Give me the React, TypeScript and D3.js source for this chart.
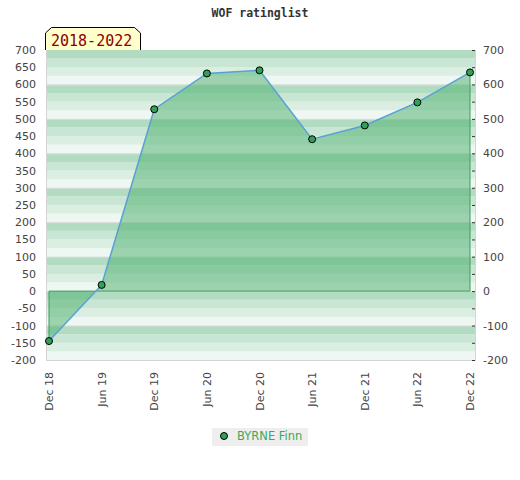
import React from 'react';
import * as d3 from 'd3';

// WOF rating history, half-year steps
const periods = ['Dec 18', 'Jun 19', 'Dec 19', 'Jun 20', 'Dec 20', 'Jun 21', 'Dec 21', 'Jun 22', 'Dec 22'];
const ratings = [-145, 18, 528, 632, 641, 441, 481, 548, 635];
const leftTicks = d3.range(-200, 701, 50);
const rightTicks = d3.range(-200, 701, 100);
const seriesName = 'BYRNE Finn';
const rangeLabel = '2018-2022';

const W = 520;
const H = 480;
const plot = { left: 46, right: 475, top: 50, bottom: 360 };

// stripe colours, from bottom of each 100 band up
const stripeColors = ['#eef7f1', '#dbeee2', '#c8e6d3', '#b2dcc2'];

const App: React.FC = () => {
  const x = d3.scalePoint<string>().domain(periods).range([49, 470]).padding(0);
  const y = d3.scaleLinear().domain([-200, 700]).range([plot.bottom, plot.top]);

  const pts = periods.map((p, i) => ({ p, v: ratings[i] }));

  const area = d3.area<{ p: string; v: number }>()
    .x(d => x(d.p)!)
    .y0(y(0))
    .y1(d => y(d.v));
  const line = d3.line<{ p: string; v: number }>()
    .x(d => x(d.p)!)
    .y(d => y(d.v));

  const first = pts[0];
  const last = pts[pts.length - 1];
  const outline = `M${x(first.p)},${y(first.v)}V${y(0)}H${x(last.p)}V${y(last.v)}`;

  const stripes = d3.range(-200, 700, 25);
  const font = '"DejaVu Sans", sans-serif';

  return (
    <div style={{ position: 'absolute', left: 0, top: 0 }}>
      <svg width={W} height={H} style={{ display: 'block', background: '#fff' }}>
        <text x={W / 2} y={17} textAnchor="middle" fontFamily='"DejaVu Sans Mono", monospace'
          fontWeight="bold" fontSize={11.5} fill="#333">WOF ratinglist</text>

        {/* striped background */}
        {stripes.map((v, i) => (
          <rect key={v} x={plot.left} width={plot.right - plot.left}
            y={y(v + 25)} height={y(v) - y(v + 25)} fill={stripeColors[i % 4]} />
        ))}
        {rightTicks.slice(1, -1).map(v => (
          <line key={v} x1={plot.left} x2={plot.right} y1={y(v) + 0.5} y2={y(v) + 0.5}
            stroke="#dcdcdc" strokeWidth={1} />
        ))}
        <path d={`M${plot.left + 0.5},${plot.top}V${plot.bottom + 0.5}H${plot.right + 0.5}V${plot.top}`}
          fill="none" stroke="#d4d4d4" />

        {/* area + line */}
        <path d={area(pts)!} fill="rgb(74,174,107)" fillOpacity={0.5} />
        <path d={outline} fill="none" stroke="#3d9d5d" strokeWidth={1} />
        <path d={line(pts)!} fill="none" stroke="#5aa0d6" strokeWidth={1.5} />
        {pts.map(d => (
          <circle key={d.p} cx={x(d.p)} cy={y(d.v)} r={3.5} fill="#33a058" stroke="#000" strokeWidth={1} />
        ))}

        {/* right edge ticks */}
        {leftTicks.map(v => (
          <line key={v} x1={plot.right - 3} x2={plot.right} y1={y(v) + 0.5} y2={y(v) + 0.5} stroke="#333" />
        ))}

        {/* left axis labels */}
        {leftTicks.map(v => (
          <text key={v} x={36} y={y(v) + 4} textAnchor="end" fontFamily={font} fontSize={11} fill="#444">{v}</text>
        ))}
        {/* right axis labels */}
        {rightTicks.map(v => (
          <text key={v} x={483} y={y(v) + 4} textAnchor="start" fontFamily={font} fontSize={11} fill="#444">{v}</text>
        ))}

        {/* x labels */}
        {periods.map(p => (
          <text key={p} transform={`translate(${x(p)! + 4},${plot.bottom + 12}) rotate(-90)`}
            textAnchor="end" fontFamily={font} fontSize={11} fill="#444">{p}</text>
        ))}

        {/* range tag */}
        <path d="M45.5,50V33L51.5,27.5H134.5L140.5,33V50" fill="#ffffcc" stroke="#000" />
        <text x={51} y={46} fontFamily='"DejaVu Sans Mono", monospace' fontSize={15} fill="#8b0000">{rangeLabel}</text>

        {/* legend */}
        <rect x={212} y={428} width={96} height={18} fill="#eeeeee" />
        <circle cx={224} cy={436} r={3.5} fill="#33a058" stroke="#000" />
        <text x={237} y={440} fontFamily={font} fontSize={11.5} fill="#3aaa5a">{seriesName}</text>
      </svg>
    </div>
  );
};

export default App;
